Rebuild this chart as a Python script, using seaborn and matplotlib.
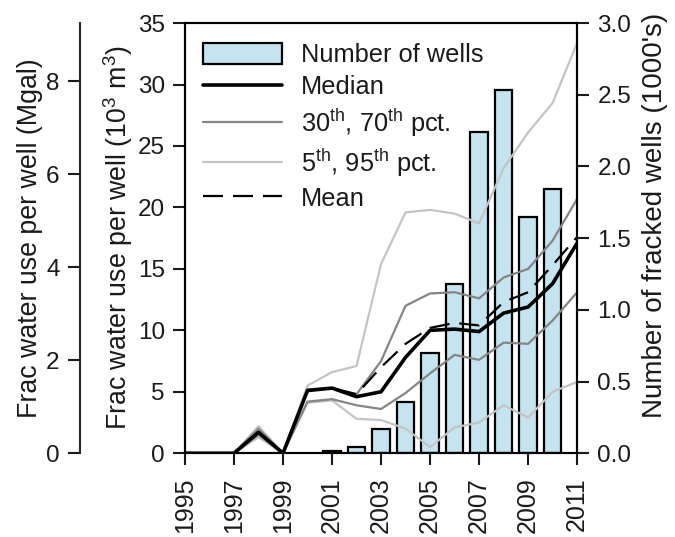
import numpy as np
import matplotlib
matplotlib.use("Agg")
import matplotlib.pyplot as plt
import seaborn as sns

years = [1995, 1996, 1997, 1998, 1999, 2000, 2001, 2002, 2003,
         2004, 2005, 2006, 2007, 2008, 2009, 2010, 2011]
median = [0, 0, 0, 1.7, 0, 5.1, 5.3, 4.6, 5.0, 7.8, 10.0, 10.1, 9.9, 11.4, 11.9, 13.8, 17.1]
mean = [0, 0, 0, 1.7, 0, 5.1, 5.3, 4.8, 7.0, 8.9, 10.2, 10.6, 10.4, 12.3, 13.1, 15.3, 17.6]
p70 = [0, 0, 0, 2.0, 0, 5.2, 5.3, 4.8, 7.5, 12.0, 13.0, 13.1, 12.6, 14.3, 15.0, 17.3, 20.7]
p30 = [0, 0, 0, 1.5, 0, 4.2, 4.4, 3.9, 3.6, 4.9, 6.5, 8.0, 7.6, 9.0, 8.9, 10.8, 13.1]
p95 = [0, 0, 0, 2.2, 0, 5.5, 6.6, 7.1, 15.4, 19.6, 19.8, 19.5, 18.7, 23.2, 26.1, 28.5, 33.4]
p5 = [0, 0, 0, 1.3, 0, 4.1, 4.3, 2.8, 2.7, 2.0, 0.5, 2.1, 2.5, 3.9, 2.9, 5.0, 5.8]

well_years = [2001, 2002, 2003, 2004, 2005, 2006, 2007, 2008, 2009, 2010]
wells = [0.015, 0.04, 0.17, 0.36, 0.70, 1.18, 2.24, 2.53, 1.65, 1.84]  # 1000's

M3_PER_MGAL = 3.785

sns.set_style("ticks")
plt.rcParams["font.family"] = ["Liberation Sans", "DejaVu Sans"]
plt.rcParams["mathtext.fontset"] = "custom"
plt.rcParams["mathtext.rm"] = "Liberation Sans"
plt.rcParams["font.size"] = 17.5
plt.rcParams["axes.labelsize"] = 19.3
plt.rcParams["axes.linewidth"] = 1.5
plt.rcParams["text.color"] = "#1a1a1a"
plt.rcParams["axes.labelcolor"] = "#1a1a1a"
plt.rcParams["xtick.color"] = "#1a1a1a"
plt.rcParams["ytick.color"] = "#1a1a1a"

fig = plt.figure(figsize=(6.75, 5.37), dpi=100)
ax = fig.add_axes([0.274, 0.156, 0.581, 0.801])
axr = ax.twinx()

# bars on the right axis (drawn underneath)
sns.barplot(x=well_years, y=wells, ax=axr, native_scale=True, width=0.72,
            color="#c4e4f1", edgecolor="black", linewidth=1.6, saturation=1,
            label="Number of wells")

# percentile / median / mean lines on the left axis
sns.lineplot(x=years, y=p95, ax=ax, color="#c4c4c4", lw=1.6, label="5$^{\\rm th}$, 95$^{\\rm th}$ pct.")
sns.lineplot(x=years, y=p5, ax=ax, color="#c4c4c4", lw=1.6)
sns.lineplot(x=years, y=p70, ax=ax, color="#858585", lw=1.6, label="30$^{\\rm th}$, 70$^{\\rm th}$ pct.")
sns.lineplot(x=years, y=p30, ax=ax, color="#858585", lw=1.6)
sns.lineplot(x=years, y=mean, ax=ax, color="black", lw=1.6, label="Mean")
ax.lines[-1].set_linestyle((0, (9, 4.5)))
sns.lineplot(x=years, y=median, ax=ax, color="black", lw=2.6, label="Median")

ax.set_zorder(axr.get_zorder() + 1)
ax.patch.set_visible(False)

ax.set_xlim(1995, 2011)
ax.set_ylim(0, 35)
axr.set_ylim(0, 3.0)
ax.set_xticks(range(1995, 2012, 2))
ax.set_xticklabels([str(y) for y in range(1995, 2012, 2)], rotation=90, fontsize=18)
ax.set_yticks(range(0, 36, 5))
axr.set_yticks(np.arange(0, 3.01, 0.5))
axr.set_yticklabels([f"{v:.1f}" for v in np.arange(0, 3.01, 0.5)])
ax.set_xlabel("")
axr.set_xlabel("")

ax.tick_params(axis="y", direction="out", length=8.5, width=1.5, pad=6)
ax.tick_params(axis="x", direction="out", length=8.5, width=1.5, pad=9)
axr.tick_params(axis="y", direction="out", length=8.5, width=1.5, pad=6)

ax.set_ylabel("Frac water use per well (10$^3$ m$^3$)", labelpad=2)
axr.set_ylabel("Number of fracked wells (1000's)", labelpad=8, fontsize=20)
axr.yaxis.label.set_y(0.553)

# outer axis in Mgal
sec = ax.secondary_yaxis(-0.268, functions=(lambda v: v / M3_PER_MGAL,
                                            lambda v: v * M3_PER_MGAL))
sec.set_yticks([0, 2, 4, 6, 8])
sec.tick_params(direction="out", length=8.5, width=1.5, pad=6)
sec.spines["left"].set_linewidth(1.5)
sec.set_ylabel("Frac water use per well (Mgal)", labelpad=2)

for a in (ax, axr):
    for s in a.spines.values():
        s.set_linewidth(1.5)
        s.set_color("black")

# legend
for a in (ax, axr):
    if a.get_legend() is not None:
        a.get_legend().remove()
h1, l1 = axr.get_legend_handles_labels()
h2, l2 = ax.get_legend_handles_labels()
lookup = dict(zip(l1 + l2, h1 + h2))
order = ["Number of wells", "Median", "30$^{\\rm th}$, 70$^{\\rm th}$ pct.",
         "5$^{\\rm th}$, 95$^{\\rm th}$ pct.", "Mean"]
ax.legend([lookup[k] for k in order], order, loc="upper left",
          bbox_to_anchor=(0.0, 0.995), frameon=False, handlelength=3.1,
          handleheight=0.9, handletextpad=0.75, labelspacing=0.3,
          borderaxespad=0.3, fontsize=18.3)

fig.savefig("out.png", dpi=100)
